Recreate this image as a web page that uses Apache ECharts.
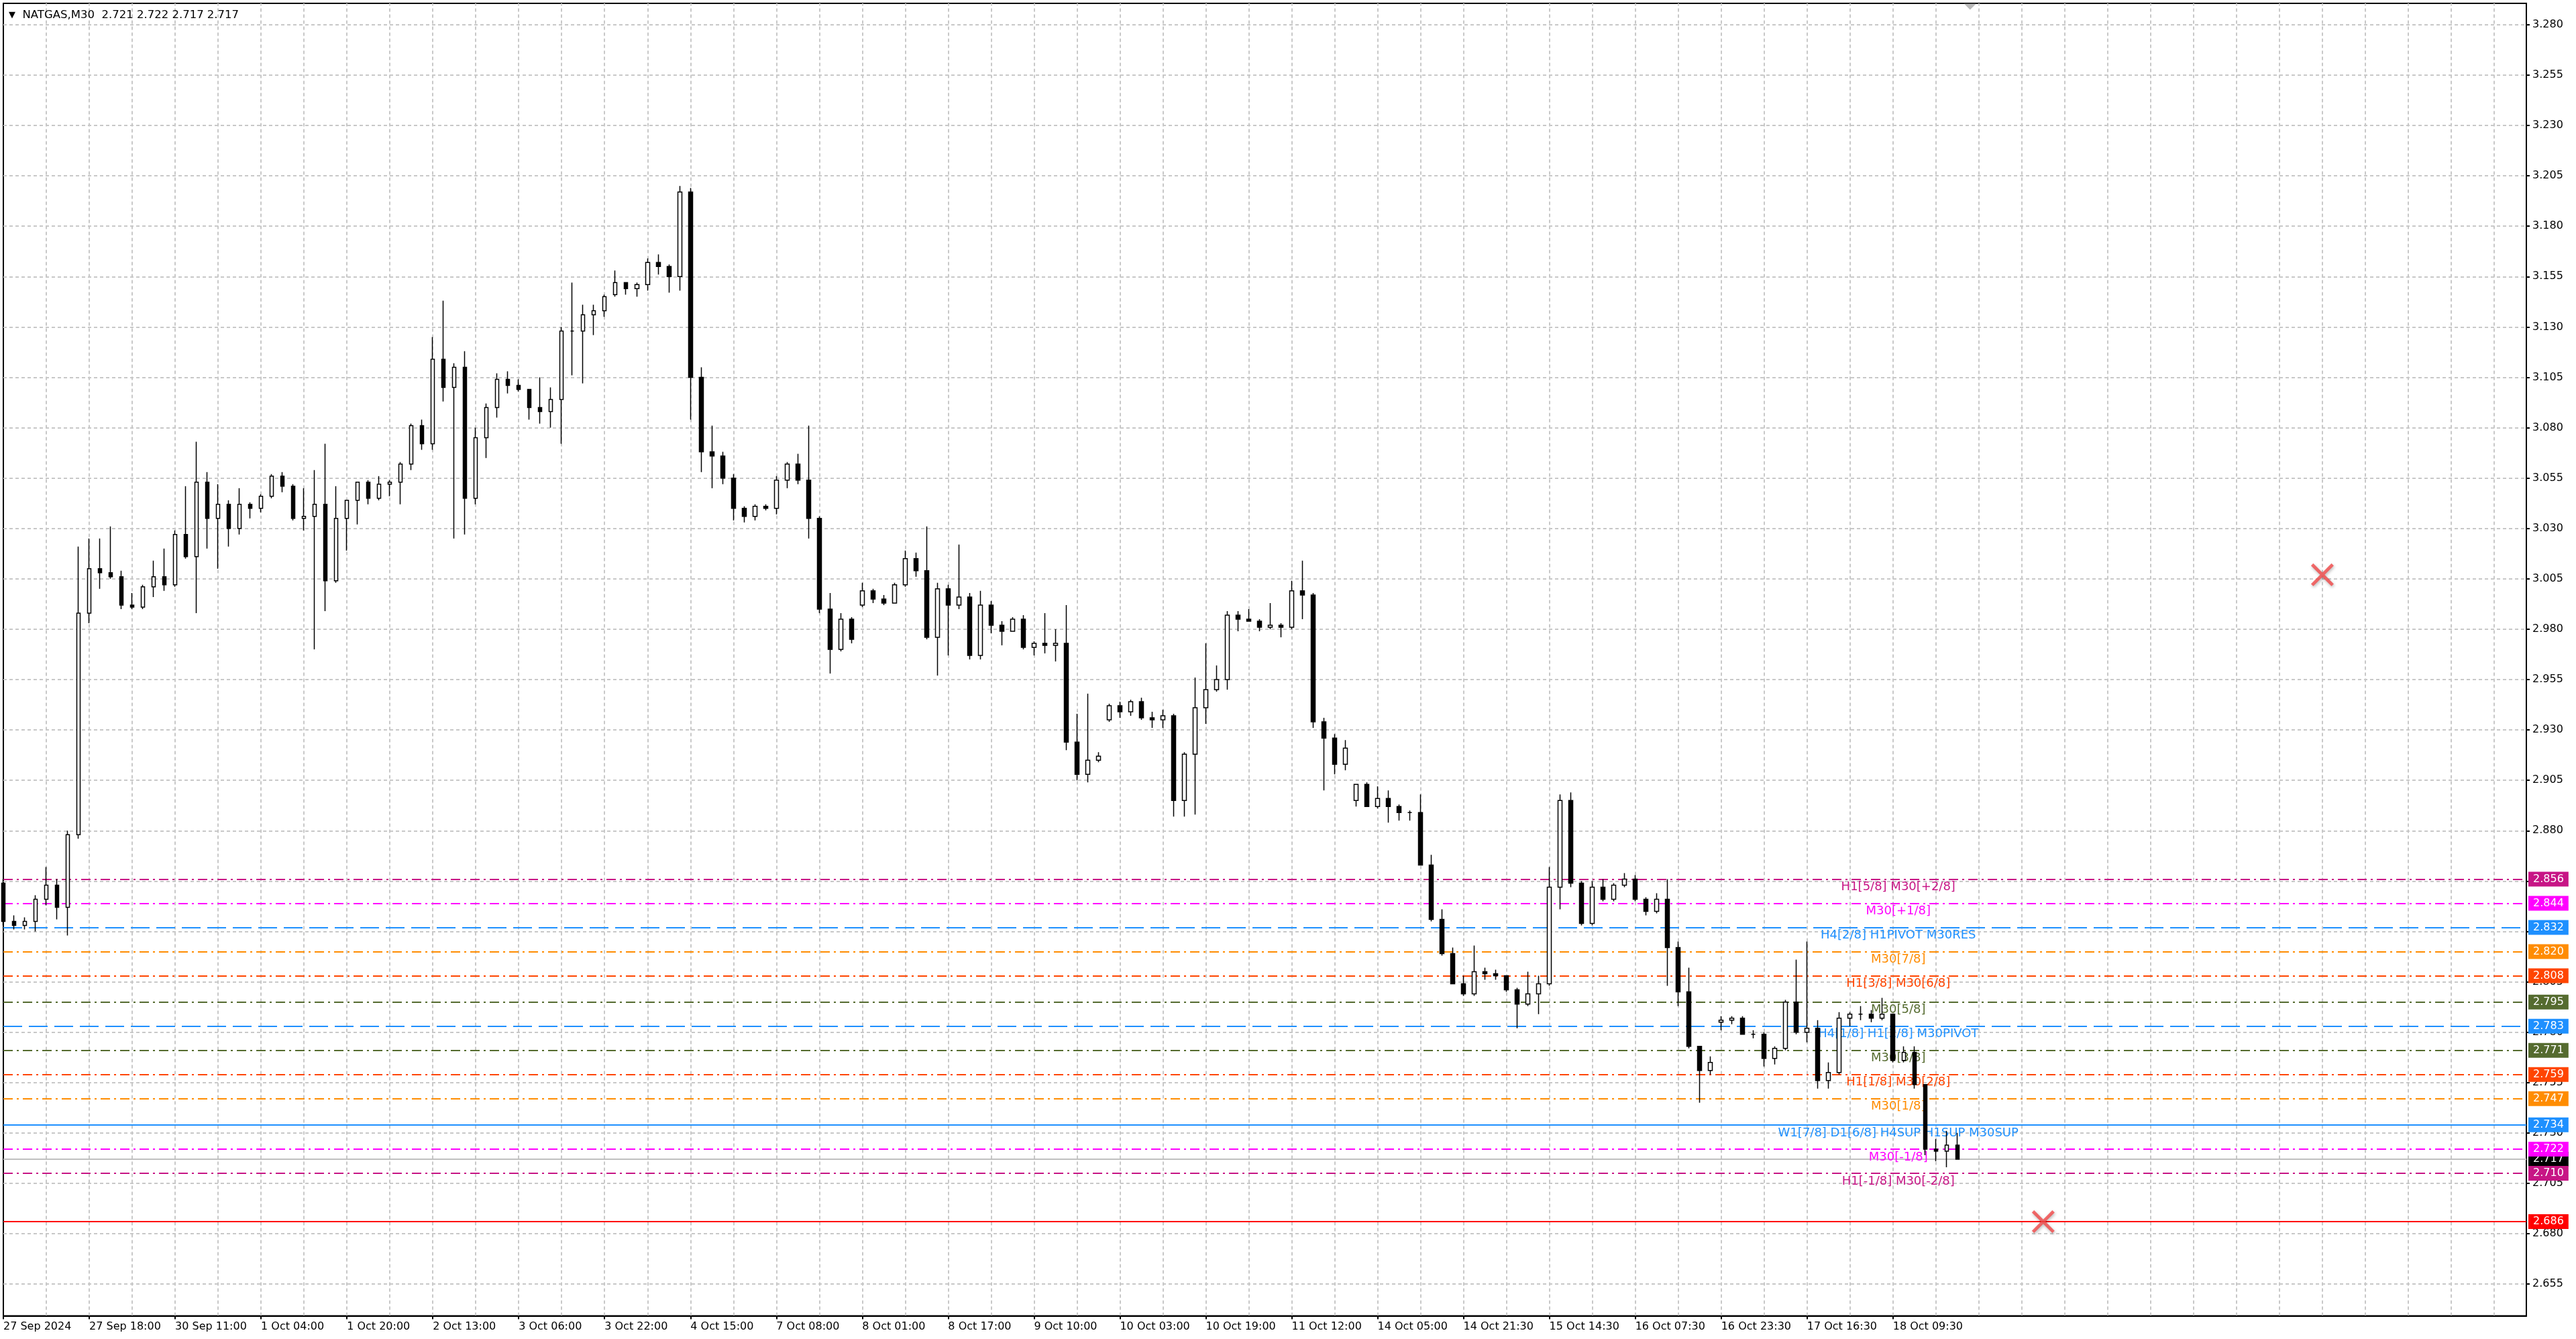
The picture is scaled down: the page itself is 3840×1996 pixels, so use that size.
<!DOCTYPE html>
<html><head><meta charset="utf-8">
<script src="https://cdn.jsdelivr.net/npm/echarts@6/dist/echarts.min.js"></script>
<style>html,body{margin:0;padding:0;background:#fff;}#c{width:3840px;height:1996px;}</style>
</head><body><div id="c"></div>
<script>
const tickLabels = ['27 Sep 2024','27 Sep 18:00','30 Sep 11:00','1 Oct 04:00','1 Oct 20:00','2 Oct 13:00','3 Oct 06:00','3 Oct 22:00','4 Oct 15:00','7 Oct 08:00','8 Oct 01:00','8 Oct 17:00','9 Oct 10:00','10 Oct 03:00','10 Oct 19:00','11 Oct 12:00','14 Oct 05:00','14 Oct 21:30','15 Oct 14:30','16 Oct 07:30','16 Oct 23:30','17 Oct 16:30','18 Oct 09:30'];
const priceTicks = [2.655,2.680,2.705,2.730,2.755,2.780,2.805,2.830,2.855,2.880,2.905,2.930,2.955,2.980,3.005,3.030,3.055,3.080,3.105,3.130,3.155,3.180,3.205,3.230,3.255,3.280];
const opens = [2.854,2.835,2.833,2.835,2.846,2.853,2.842,2.878,2.988,3.010,3.008,3.006,2.992,2.991,3.001,3.006,3.002,3.027,3.016,3.053,3.035,3.042,3.030,3.042,3.040,3.046,3.056,3.051,3.035,3.036,3.042,3.004,3.035,3.044,3.053,3.045,3.052,3.053,3.062,3.081,3.072,3.114,3.100,3.110,3.045,3.075,3.090,3.104,3.101,3.099,3.090,3.088,3.094,3.128,3.128,3.136,3.138,3.146,3.152,3.149,3.151,3.162,3.160,3.155,3.197,3.105,3.068,3.066,3.055,3.040,3.036,3.041,3.040,3.054,3.062,3.054,3.035,2.990,2.970,2.985,2.992,2.999,2.995,2.993,3.002,3.015,3.009,2.976,3.000,2.992,2.996,2.967,2.992,2.982,2.979,2.985,2.971,2.973,2.972,2.973,2.924,2.908,2.915,2.935,2.942,2.939,2.944,2.936,2.935,2.937,2.895,2.918,2.941,2.950,2.955,2.987,2.985,2.984,2.981,2.982,2.981,2.999,2.997,2.934,2.926,2.913,2.895,2.903,2.892,2.896,2.892,2.889,2.889,2.863,2.836,2.819,2.804,2.799,2.810,2.809,2.808,2.801,2.794,2.799,2.804,2.852,2.895,2.854,2.834,2.852,2.846,2.853,2.856,2.846,2.840,2.846,2.822,2.800,2.773,2.761,2.785,2.786,2.787,2.779,2.779,2.767,2.772,2.795,2.780,2.782,2.756,2.760,2.787,2.789,2.789,2.787,2.789,2.766,2.770,2.754,2.722,2.721,2.724];
const highs = [2.856,2.838,2.837,2.848,2.862,2.856,2.880,3.021,3.025,3.025,3.031,3.009,2.998,3.002,3.014,3.020,3.029,3.051,3.073,3.058,3.052,3.044,3.050,3.043,3.047,3.057,3.058,3.052,3.050,3.059,3.072,3.051,3.044,3.053,3.054,3.056,3.054,3.063,3.082,3.084,3.125,3.143,3.112,3.118,3.080,3.092,3.107,3.108,3.104,3.099,3.105,3.100,3.130,3.152,3.141,3.141,3.146,3.158,3.152,3.152,3.164,3.166,3.161,3.200,3.199,3.110,3.081,3.068,3.057,3.041,3.042,3.042,3.056,3.063,3.067,3.081,3.036,2.998,2.988,2.986,3.003,3.000,2.997,3.003,3.019,3.018,3.031,3.003,3.002,3.022,2.998,2.999,2.994,2.984,2.986,2.987,2.974,2.988,2.980,2.992,2.938,2.948,2.919,2.943,2.944,2.945,2.946,2.939,2.940,2.938,2.919,2.956,2.973,2.962,2.989,2.989,2.990,2.985,2.993,2.983,3.004,3.014,2.998,2.936,2.928,2.925,2.903,2.904,2.902,2.900,2.893,2.890,2.898,2.868,2.841,2.822,2.808,2.823,2.812,2.811,2.808,2.802,2.810,2.808,2.862,2.898,2.899,2.855,2.855,2.856,2.854,2.859,2.858,2.847,2.849,2.856,2.825,2.812,2.773,2.768,2.788,2.788,2.788,2.781,2.780,2.773,2.796,2.816,2.825,2.786,2.765,2.790,2.790,2.793,2.791,2.797,2.789,2.773,2.773,2.754,2.727,2.731,2.730];
const lows = [2.833,2.831,2.831,2.830,2.843,2.836,2.828,2.876,2.983,3.000,3.005,2.990,2.990,2.990,2.996,2.999,3.001,3.015,2.988,3.020,3.010,3.021,3.027,3.035,3.038,3.045,3.048,3.034,3.029,2.970,2.989,3.003,3.019,3.032,3.042,3.044,3.046,3.042,3.059,3.069,3.069,3.093,3.025,3.027,3.042,3.065,3.085,3.097,3.098,3.084,3.082,3.080,3.072,3.106,3.102,3.126,3.135,3.145,3.146,3.145,3.148,3.156,3.147,3.148,3.084,3.058,3.050,3.052,3.034,3.033,3.034,3.039,3.037,3.050,3.052,3.025,2.988,2.958,2.969,2.973,2.991,2.993,2.992,2.993,3.001,3.006,2.975,2.957,2.967,2.990,2.965,2.965,2.978,2.972,2.979,2.970,2.967,2.968,2.964,2.920,2.905,2.904,2.914,2.934,2.936,2.937,2.935,2.931,2.931,2.887,2.887,2.888,2.933,2.949,2.950,2.979,2.984,2.979,2.980,2.976,2.980,2.985,2.931,2.900,2.908,2.910,2.892,2.892,2.891,2.884,2.885,2.885,2.863,2.835,2.818,2.804,2.798,2.798,2.806,2.806,2.800,2.782,2.793,2.789,2.803,2.841,2.852,2.833,2.833,2.845,2.845,2.852,2.845,2.838,2.839,2.803,2.793,2.772,2.745,2.759,2.781,2.784,2.779,2.777,2.763,2.764,2.771,2.779,2.775,2.752,2.752,2.759,2.783,2.786,2.785,2.786,2.765,2.765,2.752,2.719,2.716,2.713,2.718];
const closes = [2.835,2.833,2.835,2.846,2.853,2.842,2.878,2.988,3.010,3.008,3.006,2.992,2.991,3.001,3.006,3.002,3.027,3.016,3.053,3.035,3.042,3.030,3.042,3.040,3.046,3.056,3.051,3.035,3.036,3.042,3.004,3.035,3.044,3.053,3.045,3.052,3.053,3.062,3.081,3.072,3.114,3.100,3.110,3.045,3.075,3.090,3.104,3.101,3.099,3.090,3.088,3.094,3.128,3.128,3.136,3.138,3.145,3.152,3.149,3.151,3.162,3.160,3.155,3.197,3.105,3.068,3.066,3.055,3.040,3.036,3.041,3.040,3.054,3.062,3.054,3.035,2.990,2.970,2.985,2.975,2.999,2.995,2.993,3.002,3.015,3.009,2.976,3.000,2.992,2.996,2.967,2.992,2.982,2.979,2.985,2.971,2.973,2.972,2.973,2.924,2.908,2.915,2.917,2.942,2.939,2.944,2.936,2.935,2.937,2.895,2.918,2.941,2.950,2.955,2.987,2.985,2.984,2.981,2.982,2.981,2.999,2.997,2.934,2.926,2.913,2.921,2.903,2.892,2.896,2.892,2.889,2.889,2.863,2.836,2.819,2.804,2.799,2.810,2.809,2.808,2.801,2.794,2.799,2.804,2.852,2.895,2.854,2.834,2.852,2.846,2.853,2.856,2.846,2.840,2.846,2.822,2.800,2.773,2.761,2.765,2.786,2.787,2.779,2.779,2.767,2.772,2.795,2.780,2.782,2.756,2.760,2.787,2.789,2.789,2.787,2.789,2.766,2.770,2.754,2.722,2.721,2.724,2.717];
const levelValues = [2.856,2.844,2.832,2.820,2.808,2.795,2.783,2.771,2.759,2.747,2.734,2.722,2.710];
const levelNames = ['H1[5/8] M30[+2/8]','M30[+1/8]','H4[2/8] H1PIVOT M30RES','M30[7/8]','H1[3/8] M30[6/8]','M30[5/8]','H4[1/8] H1[2/8] M30PIVOT','M30[3/8]','H1[1/8] M30[2/8]','M30[1/8]','W1[7/8] D1[6/8] H4SUP H1SUP M30SUP','M30[-1/8]','H1[-1/8] M30[-2/8]'];
const levelColors = ['#C71585','#FF00FF','#1E90FF','#FF8C00','#FF4500','#556B2F','#1E90FF','#556B2F','#FF4500','#FF8C00','#1E90FF','#FF00FF','#C71585'];
const levelKinds = ['dashdot','dashdot','dash','dashdot','dashdot','dashdot','dash','dashdot','dashdot','dashdot','solid','dashdot','dashdot'];
const stopLevel = 2.686;
const lastPrice = 2.717;
const crossPoints = [[216, 3.007], [190, 2.686]];
const shiftMarker = [[183, 3.2906]];
const titleText = 'NATGAS,M30  2.721 2.722 2.717 2.717';

const FONT = 'DejaVu Sans';
const NCAT = 236;
const cats = Array.from({length: NCAT}, (_, i) => 'c' + i);
const isLabelIdx = i => i % 8 === 0 && (i / 8) < tickLabels.length;
const dashOf = k => k === 'dash' ? [28, 10] : (k === 'dashdot' ? [14, 6, 3, 6] : 'solid');
const vGridIdx = [];
for (let i = 4; i < NCAT; i += 4) vGridIdx.push(i);

const chart = echarts.init(document.getElementById('c'), null, {renderer: 'canvas'});
chart.setOption({
  animation: false,
  backgroundColor: '#ffffff',
  title: {
    text: '{t|▼}  ' + titleText, left: 8, top: 9,
    textStyle: {fontFamily: FONT, fontSize: 16.5, fontWeight: 'normal', color: '#000',
      rich: {t: {fontSize: 13, color: '#000', fontFamily: FONT}}}
  },
  grid: {left: 5, right: 74, top: 5, bottom: 34.4, show: true, borderColor: '#000', borderWidth: 2, backgroundColor: '#fff'},
  xAxis: {
    type: 'category', data: cats, boundaryGap: false,
    axisLine: {lineStyle: {color: '#000', width: 2}},
    axisTick: {interval: (i) => isLabelIdx(i), length: 5, lineStyle: {color: '#000', width: 2}},
    axisLabel: {interval: (i) => isLabelIdx(i), formatter: (v, i) => isLabelIdx(i) ? tickLabels[i / 8] : '',
      align: 'left', color: '#000', fontSize: 16, fontFamily: FONT, margin: 8},
    splitLine: {show: false}
  },
  yAxis: {
    type: 'value', position: 'right', min: 2.6392, max: 3.2906,
    axisLine: {show: true, lineStyle: {color: '#000', width: 2}},
    axisTick: {show: true, customValues: priceTicks, length: 5, lineStyle: {color: '#000', width: 2}},
    axisLabel: {customValues: priceTicks, formatter: v => v.toFixed(3), color: '#000', fontSize: 16, fontFamily: FONT, margin: 9},
    splitLine: {show: true, lineStyle: {color: '#c8c8c8', width: 2, type: [5, 4]}}
  },
  series: [
    {
      type: 'line', data: [], z: 0, silent: true,
      markLine: {
        z: 0, silent: true, symbol: 'none', animation: false, label: {show: false},
        lineStyle: {color: '#c8c8c8', width: 2, type: [5, 4]},
        data: vGridIdx.map(i => ({xAxis: i}))
      }
    },
    {
      type: 'line', data: [], z: 1, silent: true,
      markLine: {
        z: 1, silent: true, symbol: 'none', animation: false, precision: 3,
        data: [
          {yAxis: lastPrice, lineStyle: {color: '#c0c0c0', width: 2, type: 'solid'},
           label: {show: true, position: 'end', distance: 3, formatter: lastPrice.toFixed(3), color: '#fff', backgroundColor: '#000', padding: [3, 7], fontSize: 16, fontFamily: FONT}},
          {yAxis: stopLevel, lineStyle: {color: '#ff0000', width: 2, type: 'solid'},
           label: {show: true, position: 'end', distance: 3, formatter: stopLevel.toFixed(3), color: '#fff', backgroundColor: '#ff0000', padding: [3, 7], fontSize: 16, fontFamily: FONT}}
        ]
      }
    },
    {
      type: 'line', data: [], z: 2, silent: true,
      markLine: {
        z: 2, silent: true, symbol: 'none', animation: false, precision: 3,
        data: levelValues.map((v, i) => ({
          yAxis: v,
          lineStyle: {color: levelColors[i], width: 2, type: dashOf(levelKinds[i])},
          label: {show: true, position: 'end', distance: 3, formatter: v.toFixed(3), color: '#fff',
            backgroundColor: levelColors[i], padding: [3, 7], fontSize: 16, fontFamily: FONT}
        }))
      },
      markPoint: {
        z: 2, silent: true, animation: false, symbol: 'rect', symbolSize: 1,
        itemStyle: {color: 'rgba(0,0,0,0)'},
        data: levelValues.map((v, i) => ({
          coord: [176, v],
          label: {show: true, position: 'inside', offset: [8, 12], formatter: levelNames[i],
            color: levelColors[i], fontSize: 18, fontFamily: FONT}
        }))
      }
    },
    {
      type: 'candlestick', z: 3, barWidth: 6,
      data: opens.map((o, i) => [o, closes[i], lows[i], highs[i]]),
      itemStyle: {color: '#ffffff', color0: '#000000', borderColor: '#000000', borderColor0: '#000000', borderWidth: 1.5}
    },
    {
      type: 'scatter', z: 5, silent: true, data: crossPoints,
      symbol: 'path://M2,0 L10,8 L18,0 L20,2 L12,10 L20,18 L18,20 L10,12 L2,20 L0,18 L8,10 L0,2 Z',
      symbolSize: 34,
      itemStyle: {color: '#f24848', shadowBlur: 4, shadowColor: 'rgba(0,0,0,0.35)', shadowOffsetX: 1, shadowOffsetY: 2}
    },
    {
      type: 'scatter', z: 5, silent: true, data: shiftMarker, clip: false,
      symbol: 'path://M0,0 L20,0 L10,10 Z', symbolSize: [18, 9], symbolOffset: [3, 5],
      itemStyle: {color: '#a8a8a8'}
    }
  ]
});
</script>
</body></html>
